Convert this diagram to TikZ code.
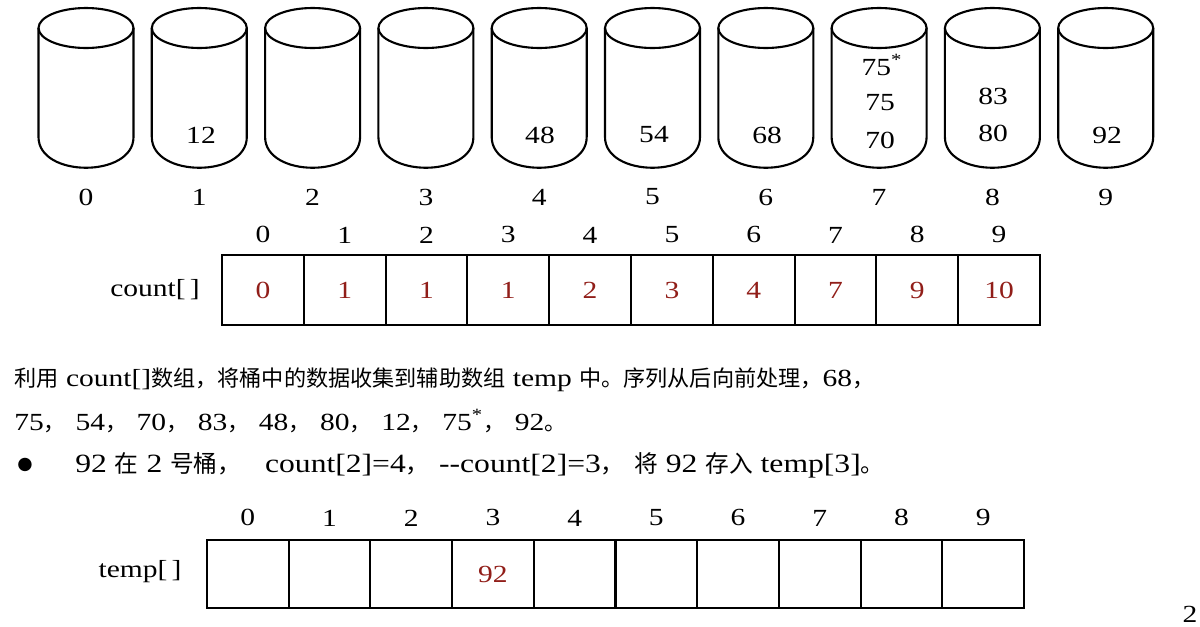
\documentclass[tikz,border=0pt]{standalone}
\usepackage{fontspec}
\setmainfont[FakeStretch=1.2]{Liberation Serif}
\newfontfamily\cjk[Scale=0.9]{Noto Sans CJK SC}
\newfontfamily\dejavu{DejaVu Sans}
\usetikzlibrary{positioning}
\definecolor{darkred}{RGB}{145,30,25}
\newcommand{\cm}{{\cjk ，}\hspace{0.19cm}}

\begin{document}
\begin{tikzpicture}[x=0.02cm, y=-0.02cm,
  font=\fontsize{14}{17}\selectfont,
  bucket/.style = {line width=1.2pt},
  cell/.style = {draw, line width=1.2pt, minimum width=1.635cm,
    minimum height=1.4cm, inner sep=0pt, outer sep=0pt, text=darkred},
  idx/.style = {inner sep=0pt}]
\useasboundingbox (0,0) rectangle (1200,626);

% buckets 0..9
\foreach \i in {0,...,9} {
  \pgfmathsetmacro{\cx}{86+113.3*\i}
  \draw[bucket] (\cx,28) ellipse [x radius=0.95cm, y radius=0.4cm];
  \draw[bucket] (\cx-47.5,28) -- (\cx-47.5,137)
    .. controls (\cx-47.5,178) and (\cx+47.5,178) .. (\cx+47.5,137)
    -- (\cx+47.5,28);
  \node (bl\i) at (\cx,197) {\i};
}
\node (b1a) at (201,135) {12};
\node (b4a) at (540,135) {48};
\node (b5a) at (654,135) {54};
\node (b6a) at (767,135) {68};
\node (b7a) at (880,140) {70};
\node (b7b) at (880,103) {75};
\node (b7c) at (882,65) {75\textsuperscript{*}};
\node (b8a) at (993,133) {80};
\node (b8b) at (993,96) {83};
\node (b9a) at (1107,135) {92};

% count[]
\node (cntlbl) at (155,290) {count[\,]};
\foreach \v [count=\i from 0] in {0,1,1,1,2,3,4,7,9,10} {
  \node[cell] (cnt\i) at (262.9+81.8*\i,290) {\v};
  \node[idx, above=0.23cm of cnt\i] (ci\i) {\i};
}

% text
\node[anchor=west, inner sep=0pt] (line1) at (14,380)
  {{\cjk 利用} count[]{\cjk 数组，将桶中的数据收集到辅助数组} temp {\cjk 中。序列从后向前处理，}68{\cjk ，}};
\node[anchor=west, inner sep=0pt] (line2) at (14,421)
  {75\cm 54\cm 70\cm 83\cm 48\cm 80\cm 12\cm 75\textsuperscript{*}\cm 92{\cjk 。}};
\node (bullet) at (25,465) {\dejavu\fontsize{10}{12}\selectfont ●};
\node[anchor=west, inner sep=0pt, font=\fontsize{15}{18}\selectfont] (line3) at (75,465)
  {92 {\cjk 在} 2 {\cjk 号桶，}\ \ \ count[2]=4\cm{-}{-}count[2]=3\cm{\cjk 将} 92 {\cjk 存入} temp[3]{\cjk 。}};

% temp[]
\node (tmplbl) at (140,572) {temp[\,]};
\foreach \v [count=\i from 0] in {{},{},{},92,{},{},{},{},{},{}} {
  \node[cell, minimum height=1.36cm] (tmp\i) at (247.85+81.7*\i,574) {\v};
  \node[idx, above=0.27cm of tmp\i] (ti\i) {\i};
}
\node (pgno) at (1190,614) {2};
\end{tikzpicture}
\end{document}
